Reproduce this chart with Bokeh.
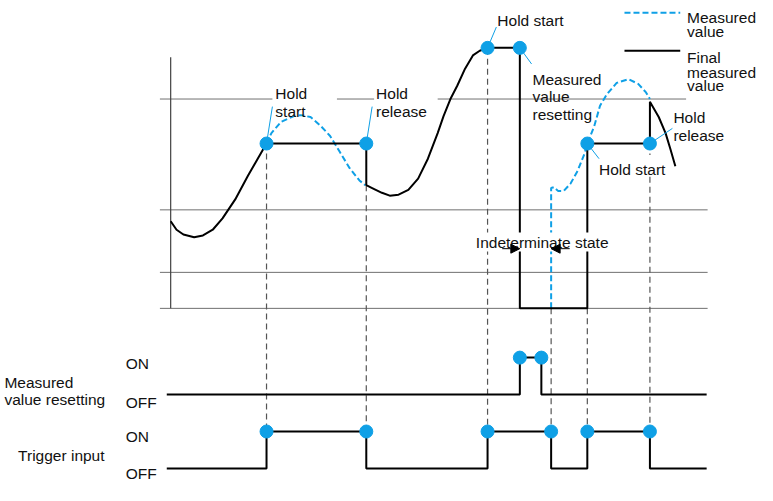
from bokeh.plotting import figure
from bokeh.models import Range1d, Arrow, NormalHead, Label
from bokeh.core.properties import value
from bokeh.embed import file_html
from bokeh.resources import INLINE

BLUE = "#0fa0e6"
FONT = value("Liberation Sans")
FS = "15.5px"

# ---- data (time axis = horizontal position, level = vertical position in diagram units) ----
# Final measured value (black solid)
final_t = [174, 180, 187, 198, 207, 217, 227, 240, 253, 263, 272, 374, 374, 380, 390, 398, 407, 417, 427,
           437, 447, 453, 460, 467, 475, 483, 490, 498, 531, 531, 600, 600, 664, 664, 673, 680, 685, 690]
final_v = [233, 242, 247, 250, 248, 242, 230, 210, 185, 167, 151, 151, 195, 198, 203, 206, 205, 200, 188,
           167, 140, 122, 104, 90, 72, 58, 53, 50, 50, 325, 325, 151, 151, 107, 123, 140, 157, 175]
# Measured value (blue dashed) while holding
meas_a_t = [272, 277, 287, 300, 307, 317, 327, 337, 347, 357, 367, 373]
meas_a_v = [151, 140, 128, 122, 121, 123, 132, 143, 160, 177, 190, 195]
meas_b_t = [563, 563, 566, 570, 576, 583, 590, 597, 600, 607, 613, 620, 630, 642, 652, 660, 664]
meas_b_v = [325, 198, 197, 201, 201, 193, 180, 162, 151, 133, 111, 99, 87, 83, 88, 97, 104]
# hold points
hold_t = [272, 374, 498, 531, 600, 664]
hold_v = [151, 151, 50, 50, 151, 151]
# callout ends
call_t = [278, 380, 507, 543, 612, 687]
call_v = [112, 112, 28, 67, 167, 135]

# top chart frame
axis_t = [174, 174]
axis_v = [60, 325]
grid_x0 = [163, 344, 447, 163, 163, 163]
grid_x1 = [278, 382, 701, 723, 723, 723]
grid_y = [104, 104, 104, 221, 287, 325]

# dashed guides
guide_t = [272, 374, 498, 563, 600, 664, 664]
guide_v0 = [151, 195, 51, 325, 325, 151, 186]
guide_v1 = [455, 455, 455, 455, 455, 163, 455]

# digital signals (0 = OFF, 1 = ON)
reset_t = [170, 531, 531, 553, 553, 722]
reset_s = [0, 0, 1, 1, 0, 0]
reset_off, reset_on = 416, 377
trig_t = [170, 272, 272, 374, 374, 498, 498, 563, 563, 600, 600, 664, 664, 722]
trig_s = [0, 0, 1, 1, 0, 0, 1, 1, 0, 0, 1, 1, 0, 0]
trig_off, trig_on = 494, 455
reset_dot_t = [531, 553]
trig_dot_t = [272, 374, 498, 563, 600, 664]

# labels
lab_text = ["Hold", "start", "Hold", "release", "Hold start", "Measured", "value", "resetting",
            "Hold start", "Hold", "release", "Measured", "value", "Final", "measured", "value",
            "ON", "OFF", "ON", "OFF", "Measured", "value resetting", "Trigger input"]
lab_x = [281, 281, 384, 384, 508, 544, 544, 544, 612, 688, 688, 702, 702, 702, 702, 702,
         128, 128, 128, 128, 4, 4, 18]
lab_y = [98, 117.5, 98, 117.5, 21, 83, 101.5, 120, 178, 124, 143, 18, 33, 60, 75.5, 90,
         383, 424, 460, 499, 403, 421, 480]
ind_text = "Indeterminate state"
ind_text_x, ind_text_y = 485, 255

# legend
leg_t = [638, 695]
leg_meas_v = 13
leg_final_v = 53

# indeterminate span
ind_left, ind_right, ind_a, ind_b, ind_v = 513, 582, 531, 563, 262

p = figure(width=757, height=485, x_range=Range1d(0, 774), y_range=Range1d(512, 0),
           output_backend="svg", toolbar_location=None, min_border=0)
p.axis.visible = False
p.grid.visible = False
p.outline_line_color = None

# frame lines
p.segment(x0=grid_x0, x1=grid_x1, y0=grid_y, y1=grid_y, line_color="#707070", line_width=1)
p.line(axis_t, axis_v, line_color="#404040", line_width=1.2)

# guides
p.segment(x0=guide_t, x1=guide_t, y0=guide_v0, y1=guide_v1, line_color="#555555",
          line_width=1.2, line_dash="6 4")

# measured value curves
p.line(meas_a_t, meas_a_v, line_color=BLUE, line_width=2, line_dash="6 3")
p.line(meas_b_t, meas_b_v, line_color=BLUE, line_width=2, line_dash="6 3")

# final measured value
p.line(final_t, final_v, line_color="black", line_width=2)

# callouts
p.segment(x0=hold_t, y0=hold_v, x1=call_t, y1=call_v, line_color=BLUE, line_width=1)

# indeterminate label with white background, then arrows
p.add_layout(Label(x=ind_text_x, y=ind_text_y, text=ind_text, text_font="Liberation Sans",
                   text_font_size=FS, text_baseline="alphabetic", text_color="#111111",
                   background_fill_color="white", padding=1))
p.line([ind_left, ind_right], [ind_v, ind_v], line_color="black", line_width=1)
p.add_layout(Arrow(end=NormalHead(size=9, fill_color="black", line_color="black"),
                   x_start=ind_left, y_start=ind_v, x_end=ind_a, y_end=ind_v,
                   line_color="black", line_width=1))
p.add_layout(Arrow(end=NormalHead(size=9, fill_color="black", line_color="black"),
                   x_start=ind_right, y_start=ind_v, x_end=ind_b, y_end=ind_v,
                   line_color="black", line_width=1))

# digital signals
reset_v = [reset_off - s * (reset_off - reset_on) for s in reset_s]
trig_v = [trig_off - s * (trig_off - trig_on) for s in trig_s]
p.line(reset_t, reset_v, line_color="black", line_width=2)
p.line(trig_t, trig_v, line_color="black", line_width=2)

# dots
p.scatter(hold_t, hold_v, size=13, fill_color=BLUE, line_color=BLUE)
p.scatter(reset_dot_t, [reset_on] * len(reset_dot_t), size=13, fill_color=BLUE, line_color=BLUE)
p.scatter(trig_dot_t, [trig_on] * len(trig_dot_t), size=13, fill_color=BLUE, line_color=BLUE)

# legend
p.line(leg_t, [leg_meas_v] * 2, line_color=BLUE, line_width=2, line_dash="6 3")
p.line(leg_t, [leg_final_v] * 2, line_color="black", line_width=2)

# texts
p.text(x=lab_x, y=lab_y, text=lab_text, text_font=FONT, text_font_size=FS,
       text_baseline="alphabetic", text_align="left", text_color="#111111")

open("out.html", "w").write(file_html(p, INLINE))
